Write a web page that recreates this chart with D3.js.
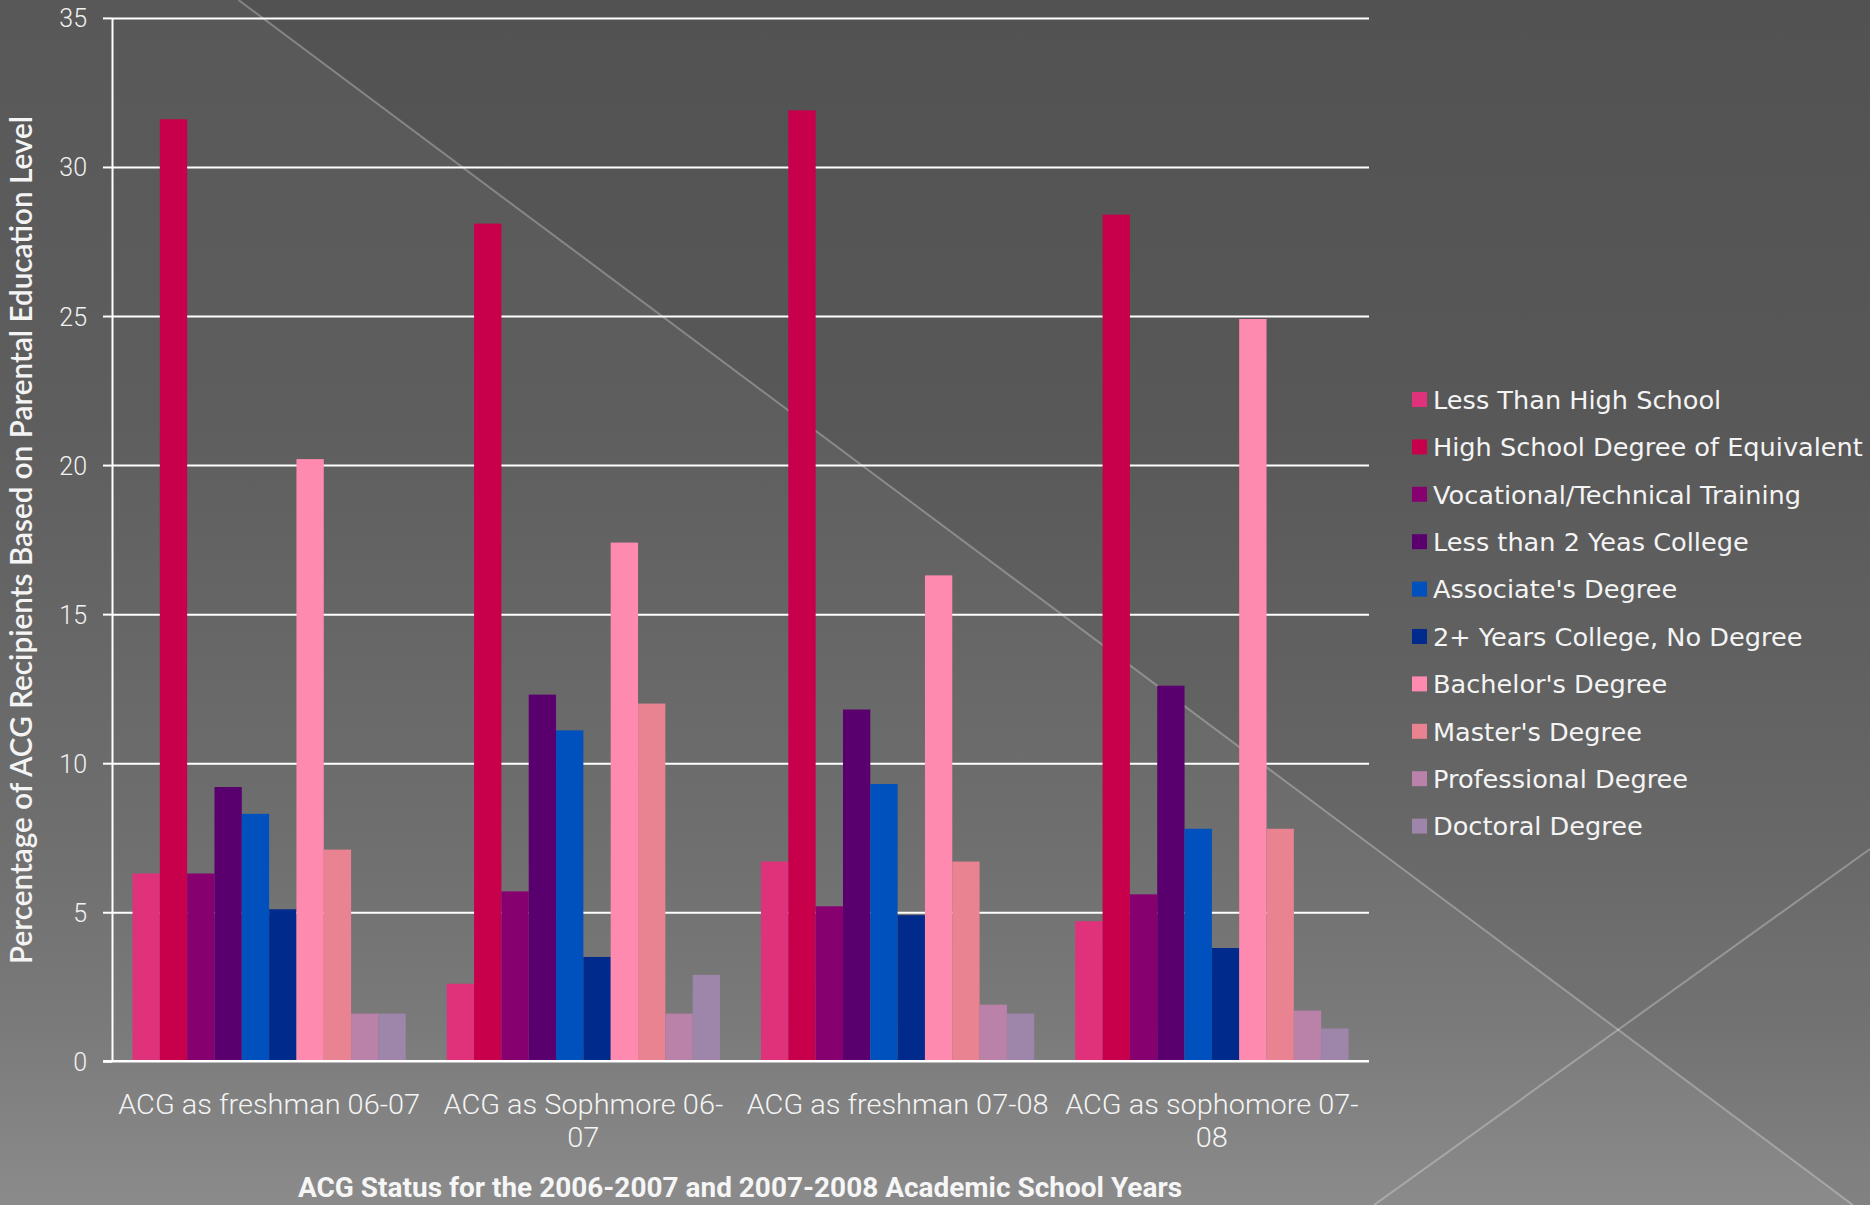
<!DOCTYPE html>
<html>
<head>
<meta charset="utf-8">
<script src="https://cdn.jsdelivr.net/npm/d3@7"></script>
<style>
  html, body { margin: 0; padding: 0; background: #6a6a6a; }
  svg { display: block; }
</style>
</head>
<body>
<svg id="chart" width="1870" height="1205"></svg>
<script>
// ---------------- DATA ----------------
const categories = ["ACG as freshman 06-07", "ACG as Sophmore 06-07", "ACG as freshman 07-08", "ACG as sophomore 07-08"];
const seriesNames = ["Less Than High School", "High School Degree of Equivalent", "Vocational/Technical Training",
  "Less than 2 Yeas College", "Associate's Degree", "2+ Years College, No Degree", "Bachelor's Degree",
  "Master's Degree", "Professional Degree", "Doctoral Degree"];
const lessThanHighSchool = [6.3, 2.6, 6.7, 4.7];
const highSchoolDegree   = [31.6, 28.1, 31.9, 28.4];
const vocationalTraining = [6.3, 5.7, 5.2, 5.6];
const lessThan2Years     = [9.2, 12.3, 11.8, 12.6];
const associatesDegree   = [8.3, 11.1, 9.3, 7.8];
const twoPlusYearsNoDeg  = [5.1, 3.5, 4.9, 3.8];
const bachelorsDegree    = [20.2, 17.4, 16.3, 24.9];
const mastersDegree      = [7.1, 12.0, 6.7, 7.8];
const professionalDegree = [1.6, 1.6, 1.9, 1.7];
const doctoralDegree     = [1.6, 2.9, 1.6, 1.1];
const yTickValues = [0, 5, 10, 15, 20, 25, 30, 35];
const seriesColors = ["#E0317B", "#C8004B", "#870070", "#5A006E", "#0050BE", "#002A8C", "#FF8AB0", "#E98291", "#BA82A8", "#9E86AA"];
const yTitle = "Percentage of ACG Recipients Based on Parental Education Level";
const xTitle = "ACG Status for the 2006-2007 and 2007-2008 Academic School Years";

const seriesValues = [lessThanHighSchool, highSchoolDegree, vocationalTraining, lessThan2Years, associatesDegree,
  twoPlusYearsNoDeg, bachelorsDegree, mastersDegree, professionalDegree, doctoralDegree];

// ---------------- LAYOUT ----------------
const W = 1870, H = 1205;
const plot = { left: 112, right: 1369, top: 17.9, bottom: 1061.3 };
const svg = d3.select("#chart");
const defs = svg.append("defs");

// background
const grad = defs.append("linearGradient").attr("id", "bg").attr("x1", 0).attr("y1", 0).attr("x2", 0).attr("y2", 1);
[[0, "#585858"], [0.35, "#5e5e5e"], [0.7, "#6f6f6f"], [0.85, "#7a7a7a"], [1, "#8b8b8b"]].forEach(([o, c]) =>
  grad.append("stop").attr("offset", o).attr("stop-color", c));
svg.append("rect").attr("width", W).attr("height", H).attr("fill", "url(#bg)");

// darker region right of the diagonal line, and decorative lines
const l1 = [[238.5, 0], [1853, 1205]];
const l2 = [[1870, 849], [1374, 1205]];
svg.append("polygon")
  .attr("points", [[238.5, 0], [W, 0], [W, 1205], [1853, 1205]].map(p => p.join(",")).join(" "))
  .attr("fill", "#000").attr("opacity", 0.06);
[l1, l2].forEach(l => svg.append("line")
  .attr("x1", l[0][0]).attr("y1", l[0][1]).attr("x2", l[1][0]).attr("y2", l[1][1])
  .attr("stroke", "#ffffff").attr("stroke-opacity", 0.28).attr("stroke-width", 2));

// ---------------- SCALES ----------------
const y = d3.scaleLinear().domain([0, 35]).range([plot.bottom, plot.top]);
const x0 = d3.scaleBand().domain(categories).range([plot.left, plot.right]).padding(0);
const step = x0.bandwidth();
const barW = step / 11.5;
const x1 = d3.scaleBand().domain(seriesNames).range([0.75 * barW, step - 0.75 * barW]).padding(0);
const color = d3.scaleOrdinal().domain(seriesNames).range(seriesColors);

// gridlines
const grid = svg.append("g").attr("transform", `translate(${plot.left},0)`)
  .call(d3.axisLeft(y).tickValues(yTickValues.filter(v => v > 0)).tickSize(-(plot.right - plot.left)).tickFormat(""));
grid.select(".domain").remove();
grid.selectAll("line").attr("stroke", "#ffffff").attr("stroke-width", 2);

// bars
const groups = svg.append("g").selectAll("g").data(categories).join("g")
  .attr("transform", d => `translate(${x0(d)},0)`);
groups.selectAll("rect")
  .data((c, ci) => seriesNames.map((s, si) => ({ s, v: seriesValues[si][ci] })))
  .join("rect")
  .attr("x", d => x1(d.s))
  .attr("width", x1.bandwidth())
  .attr("y", d => y(d.v))
  .attr("height", d => y(0) - y(d.v))
  .attr("fill", d => color(d.s));

// y axis
const yAxis = svg.append("g").attr("transform", `translate(${plot.left},0)`)
  .call(d3.axisLeft(y).tickValues(yTickValues).tickSize(9).tickPadding(16).tickSizeOuter(0));
yAxis.select(".domain").attr("stroke", "#ffffff").attr("stroke-width", 2);
yAxis.selectAll(".tick line").attr("stroke", "#ffffff").attr("stroke-width", 2);
yAxis.selectAll(".tick text")
  .attr("fill", "#f2f2f2")
  .style("font-family", "Roboto, 'DejaVu Sans Condensed', sans-serif")
  .style("font-weight", 300)
  .style("font-size", "25px")
  .attr("dy", "0.36em");

// x axis baseline
const xAxis = svg.append("g").attr("transform", `translate(0,${plot.bottom})`)
  .call(d3.axisBottom(x0).tickSize(0).tickPadding(0).tickFormat(""));
xAxis.select(".domain").attr("stroke", "#ffffff").attr("stroke-width", 2.5)
  .attr("d", `M${plot.left - 9},0H${plot.right}`);

// helper: fit font-size so a text element reaches a target width
function fitFont(sel, target) {
  const n = sel.node();
  const fs = parseFloat(sel.style("font-size"));
  const w = n.getComputedTextLength();
  sel.style("font-size", (fs * target / w) + "px");
}

// category labels (wrapped), drawn with a slight horizontal condensing
const catFont = "Roboto, 'DejaVu Sans Condensed', sans-serif";
const catSize = 27;
const probe = svg.append("text").style("font-family", catFont).style("font-weight", 300).style("font-size", catSize + "px").text(categories[0]);
const squeeze = 302 / probe.node().getComputedTextLength();
function measure(t) { probe.text(t); return probe.node().getComputedTextLength() * squeeze; }
const maxW = 307;
categories.forEach(c => {
  const tokens = c.match(/[^\s-]+-?\s*/g);
  const lines = [];
  let cur = "";
  tokens.forEach(t => {
    const trial = cur + t;
    if (cur && measure(trial.trim()) > maxW) { lines.push(cur.trim()); cur = t; }
    else cur = trial;
  });
  if (cur.trim()) lines.push(cur.trim());
  const cx = x0(c) + step / 2;
  const txt = svg.append("text").attr("text-anchor", "middle").attr("fill", "#f4f4f4")
    .attr("transform", `translate(${cx},0) scale(${squeeze},1)`)
    .style("font-family", catFont).style("font-weight", 300).style("font-size", catSize + "px");
  lines.forEach((ln, i) => txt.append("tspan").attr("x", 0).attr("y", 1114 + i * 33).text(ln));
});
probe.remove();

// y title
const yt = svg.append("text")
  .attr("transform", `translate(32,540) rotate(-90)`)
  .attr("text-anchor", "middle").attr("fill", "#f4f4f4")
  .style("font-family", "Lato, 'Open Sans', sans-serif").style("font-weight", 600).style("font-size", "25px")
  .text(yTitle);
fitFont(yt, 848);

// x title (condensed bold)
const xt = svg.append("text")
  .attr("x", 740).attr("y", 1197)
  .attr("text-anchor", "middle").attr("fill", "#f6f6f6")
  .attr("textLength", 884).attr("lengthAdjust", "spacingAndGlyphs")
  .style("font-family", "Roboto, 'DejaVu Sans', sans-serif").style("font-weight", 700).style("font-size", "28px")
  .text(xTitle);

// legend
const legFont = "'DejaVu Sans', 'Open Sans', sans-serif";
const legend = svg.append("g");
const items = legend.selectAll("g").data(seriesNames).join("g")
  .attr("transform", (d, i) => `translate(1412,${399.5 + i * 47.4})`);
items.append("rect").attr("x", 0).attr("y", -7.5).attr("width", 15).attr("height", 15).attr("fill", d => color(d));
const legTexts = items.append("text").attr("x", 21).attr("dy", "0.36em").attr("fill", "#f4f4f4")
  .style("font-family", legFont).style("font-size", "24px").text(d => d);
const longest = legTexts.filter((d, i) => i === 1);
fitFont(longest, 430);
legTexts.style("font-size", longest.style("font-size"));
</script>
</body>
</html>
